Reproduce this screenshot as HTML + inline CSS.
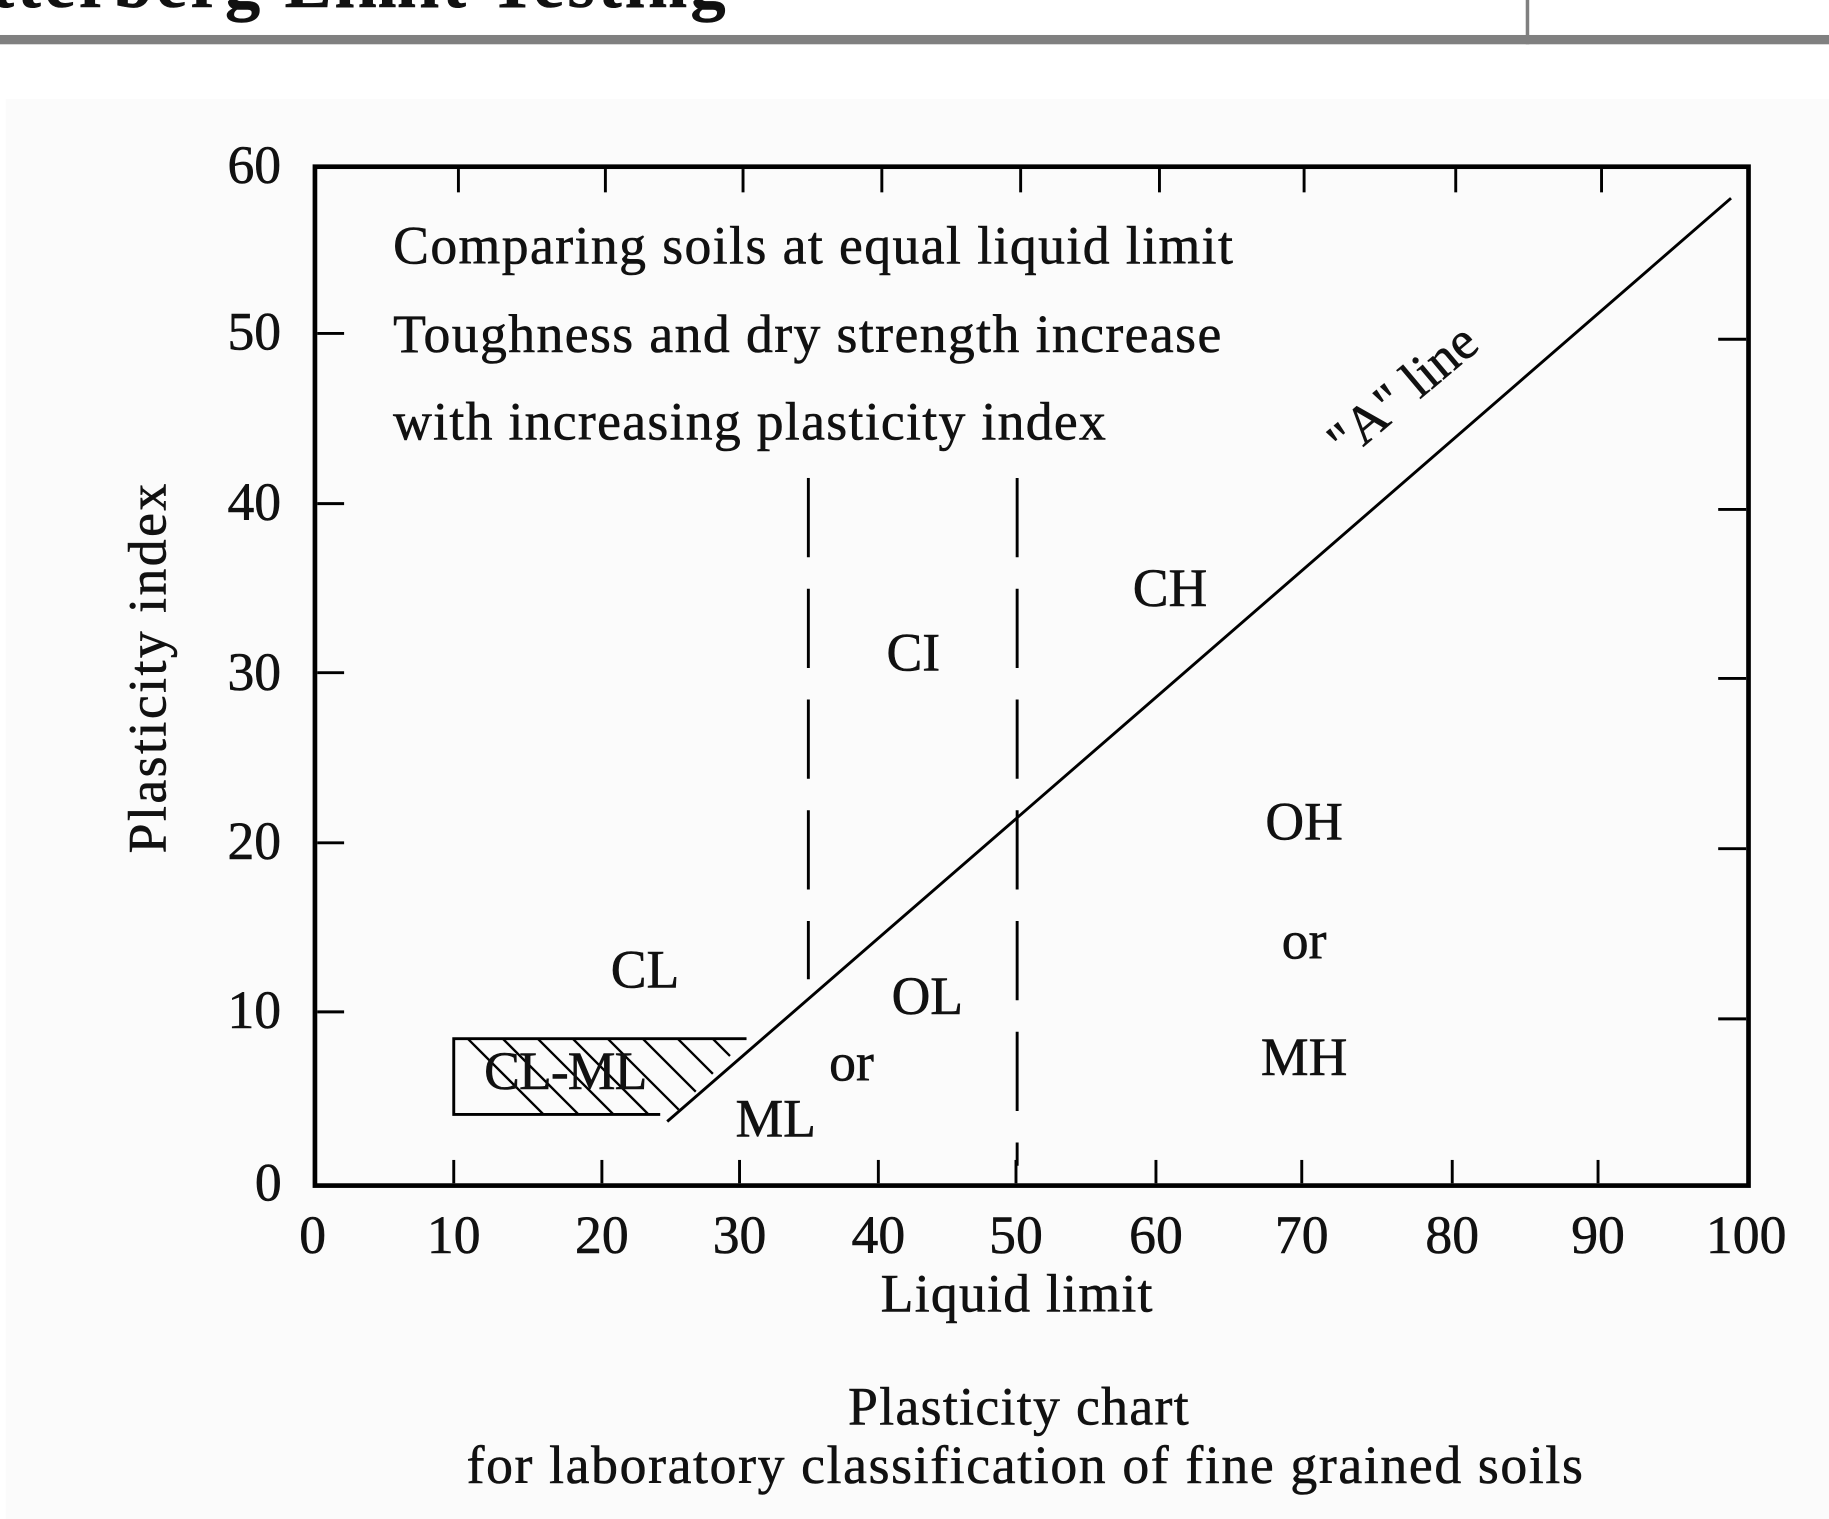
<!DOCTYPE html>
<html><head><meta charset="utf-8"><style>
html,body{margin:0;padding:0;background:#fff;}
svg{display:block;}
text{font-family:"Liberation Serif",serif;fill:#111;stroke:#111;stroke-width:0.5;}
</style></head><body>
<svg width="1829" height="1519" viewBox="0 0 1568 1303" preserveAspectRatio="none" xmlns="http://www.w3.org/2000/svg">
<rect x="0" y="0" width="1568" height="1303" fill="#fff"/>
<rect x="5" y="85" width="1563" height="1218" fill="#fbfbfb"/>
<text x="-8" y="6" font-size="60" font-weight="bold" style="font-family:'Liberation Serif',serif" textLength="630">tterberg Limit Testing</text>
<rect x="0" y="30" width="1568" height="8" fill="#808080"/>
<rect x="1308" y="0" width="3" height="38" fill="#808080"/>
<rect x="270" y="143" width="1229" height="874" fill="none" stroke="#000" stroke-width="4"/>
<g stroke="#000" stroke-width="2.5">
<line x1="393" y1="145" x2="393" y2="165"/><line x1="519" y1="145" x2="519" y2="165"/><line x1="637" y1="145" x2="637" y2="165"/><line x1="756" y1="145" x2="756" y2="165"/><line x1="875" y1="145" x2="875" y2="165"/><line x1="994" y1="145" x2="994" y2="165"/><line x1="1118" y1="145" x2="1118" y2="165"/><line x1="1248" y1="145" x2="1248" y2="165"/><line x1="1373" y1="145" x2="1373" y2="165"/>
<line x1="389" y1="995" x2="389" y2="1015"/><line x1="516" y1="995" x2="516" y2="1015"/><line x1="634" y1="995" x2="634" y2="1015"/><line x1="753" y1="995" x2="753" y2="1015"/><line x1="871" y1="995" x2="871" y2="1015"/><line x1="991" y1="995" x2="991" y2="1015"/><line x1="1116" y1="995" x2="1116" y2="1015"/><line x1="1245" y1="995" x2="1245" y2="1015"/><line x1="1370" y1="995" x2="1370" y2="1015"/>
<line x1="272" y1="286" x2="295" y2="286"/><line x1="272" y1="432" x2="295" y2="432"/><line x1="272" y1="577" x2="295" y2="577"/><line x1="272" y1="723" x2="295" y2="723"/><line x1="272" y1="868" x2="295" y2="868"/>
<line x1="1473" y1="291" x2="1497" y2="291"/><line x1="1473" y1="437" x2="1497" y2="437"/><line x1="1473" y1="582" x2="1497" y2="582"/><line x1="1473" y1="728" x2="1497" y2="728"/><line x1="1473" y1="874" x2="1497" y2="874"/>
</g>
<g font-size="46" text-anchor="middle">
<text x="218" y="157">60</text><text x="218" y="300">50</text><text x="218" y="446">40</text><text x="218" y="592">30</text><text x="218" y="737">20</text><text x="218" y="882">10</text><text x="230" y="1030">0</text>
<text x="268" y="1075">0</text><text x="389" y="1075">10</text><text x="516" y="1075">20</text><text x="634" y="1075">30</text><text x="753" y="1075">40</text><text x="871" y="1075">50</text><text x="991" y="1075">60</text><text x="1116" y="1075">70</text><text x="1245" y="1075">80</text><text x="1370" y="1075">90</text><text x="1497" y="1075">100</text>
</g>
<g font-size="46">
<text x="755" y="1125" textLength="233">Liquid limit</text>
<text transform="translate(142,732) rotate(-90)" textLength="317">Plasticity index</text>
<text x="727" y="1222" textLength="292">Plasticity chart</text>
<text x="400" y="1272" textLength="957">for laboratory classification of fine grained soils</text>
<text x="337" y="226" textLength="720">Comparing soils at equal liquid limit</text>
<text x="337" y="302" textLength="710">Toughness and dry strength increase</text>
<text x="337" y="377" textLength="611">with increasing plasticity index</text>
</g>
<defs><clipPath id="c"><polygon points="389,891 640,891 572,962 572,956 389,956"/></clipPath></defs>
<g clip-path="url(#c)" stroke="#000" stroke-width="2">
<line x1="380" y1="870" x2="480" y2="970"/><line x1="410" y1="870" x2="510" y2="970"/><line x1="440" y1="870" x2="540" y2="970"/><line x1="470" y1="870" x2="570" y2="970"/><line x1="500" y1="870" x2="600" y2="970"/><line x1="530" y1="870" x2="630" y2="970"/><line x1="560" y1="870" x2="660" y2="970"/><line x1="590" y1="870" x2="690" y2="970"/><line x1="620" y1="870" x2="720" y2="970"/>
</g>
<polyline points="566,956 389,956 389,891 640,891" fill="none" stroke="#000" stroke-width="2.5"/>
<line x1="572" y1="962" x2="1484" y2="170" stroke="#000" stroke-width="2.5"/>
<g stroke="#000" stroke-width="2.5" stroke-dasharray="68,27">
<line x1="693" y1="410" x2="693" y2="840"/>
<line x1="872" y1="410" x2="872" y2="1000"/>
</g>
<g font-size="46" text-anchor="middle">
<text x="553" y="847">CL</text><text x="783" y="575">CI</text><text x="1003" y="520">CH</text>
<text x="1118" y="720">OH</text><text x="1118" y="822">or</text><text x="1118" y="922">MH</text>
<text x="795" y="870">OL</text><text x="730" y="927">or</text><text x="665" y="975">ML</text>
<text x="485" y="934" textLength="140">CL-ML</text>
<text transform="translate(1212,347) rotate(-40)">"A" line</text>
</g>
</svg>
</body></html>
